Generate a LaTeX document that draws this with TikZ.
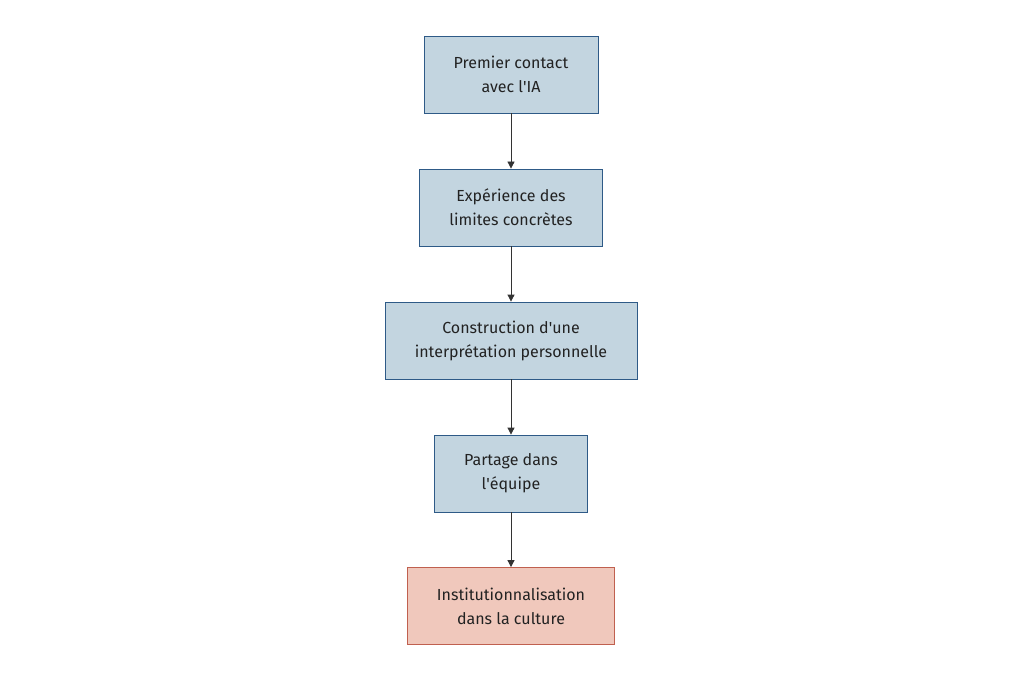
\documentclass[tikz,border=0pt]{standalone}
\usepackage{fontspec}
\setmainfont{Fira Sans}
\usetikzlibrary{arrows.meta}
\definecolor{bfill}{HTML}{C3D5E0}
\definecolor{bdraw}{HTML}{2E5A87}
\definecolor{rfill}{HTML}{F0C8BC}
\definecolor{rdraw}{HTML}{C0604F}
\definecolor{arr}{HTML}{333333}
\definecolor{txt}{HTML}{222222}
\begin{document}
\begin{tikzpicture}[x=1pt,y=-1pt,
  box/.style={draw=bdraw,fill=bfill,line width=0.8pt,minimum height=77pt,inner sep=0pt,align=center,text=txt,font=\fontsize{16}{24}\selectfont},
  redbox/.style={box,draw=rdraw,fill=rfill},
  conn/.style={draw=arr,line width=0.8pt,-{Triangle[length=7pt,width=7pt]}}]
\useasboundingbox (0,0) rectangle (1023,682);
\node[box,minimum width=174pt] (a) at (511,74.5) {Premier contact\\avec l\textquotesingle IA};
\node[box,minimum width=183pt] (b) at (511,207.5) {Expérience des\\limites concrètes};
\node[box,minimum width=252pt] (c) at (511,340.5) {Construction d\textquotesingle une\\interprétation personnelle};
\node[box,minimum width=153pt] (d) at (511,473.5) {Partage dans\\l\textquotesingle équipe};
\node[redbox,minimum width=207pt] (e) at (511,606) {Institutionnalisation\\dans la culture};
\draw[conn] (a) -- (b);
\draw[conn] (b) -- (c);
\draw[conn] (c) -- (d);
\draw[conn] (d) -- (e);
\end{tikzpicture}
\end{document}
